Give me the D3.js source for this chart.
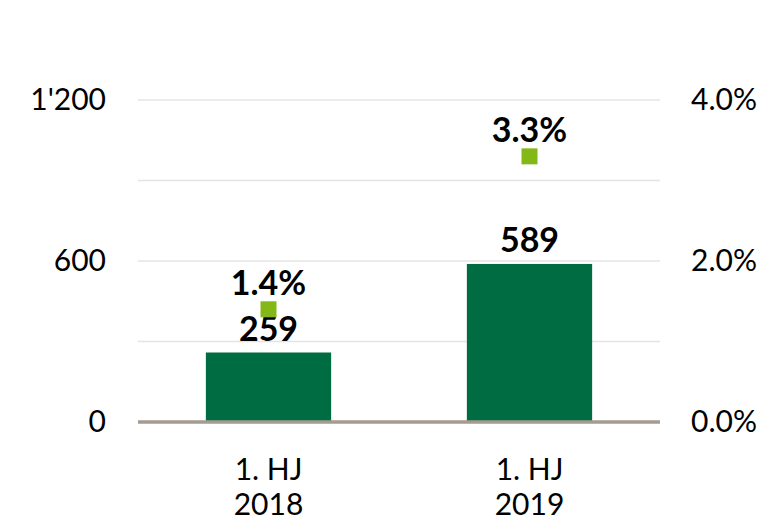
<!DOCTYPE html>
<html>
<head>
<meta charset="utf-8">
<script src="https://cdn.jsdelivr.net/npm/d3@7"></script>
<style>
  body { margin: 0; background: #fff; }
  svg { display: block; font-family: "Lato", "DejaVu Sans", sans-serif; }
</style>
</head>
<body>
<div id="chart"></div>
<script>
// data
const categories = [['1. HJ', '2018'], ['1. HJ', '2019']];
const barValues = [259, 589];
const rateValues = [1.4, 3.3];
const leftTicks = [0, 600, 1200];
const rightTicks = [0, 2, 4];
const gridTicks = [300, 600, 900, 1200];

const W = 769, H = 518;
const margin = { top: 100, right: 109, bottom: 96, left: 138 };
const width = W - margin.left - margin.right;
const height = H - margin.top - margin.bottom;

const svg = d3.select('#chart')
    .append('svg')
    .attr('width', W)
    .attr('height', H);

const g = svg.append('g')
    .attr('transform', `translate(${margin.left}, ${margin.top})`);

const xScale = d3.scaleBand()
    .domain(categories.map((d, i) => i))
    .range([0, width])
    .paddingInner(0.52)
    .paddingOuter(0.26);

const yLeft = d3.scaleLinear().domain([0, 1200]).range([height, 0]);
const yRight = d3.scaleLinear().domain([0, 4]).range([height, 0]);

// gridlines
g.selectAll('.grid')
    .data(gridTicks)
    .enter().append('line')
    .attr('x1', 0)
    .attr('x2', width)
    .attr('y1', d => yLeft(d))
    .attr('y2', d => yLeft(d))
    .attr('stroke', '#e4e4e4')
    .attr('stroke-width', 1.5);

// left axis
const leftAxis = g.append('g')
    .call(d3.axisLeft(yLeft)
        .tickValues(leftTicks)
        .tickSize(0)
        .tickPadding(32)
        .tickFormat(d => d3.format(',')(d).replace(',', "'")));
leftAxis.select('.domain').remove();
leftAxis.selectAll('text')
    .attr('dy', '0.3em')
    .style('font-size', '30px')
    .style('fill', '#000')
    .style('font-family', '"Lato", "DejaVu Sans", sans-serif');

// right axis
const rightAxis = g.append('g')
    .attr('transform', `translate(${width}, 0)`)
    .call(d3.axisRight(yRight)
        .tickValues(rightTicks)
        .tickSize(0)
        .tickPadding(31)
        .tickFormat(d => d.toFixed(1) + '%'));
rightAxis.select('.domain').remove();
rightAxis.selectAll('text')
    .attr('dy', '0.3em')
    .style('font-size', '30px')
    .style('fill', '#000')
    .style('font-family', '"Lato", "DejaVu Sans", sans-serif');

// bars
g.selectAll('.bar')
    .data(barValues)
    .enter().append('rect')
    .attr('class', 'bar')
    .attr('x', (d, i) => xScale(i))
    .attr('y', d => yLeft(d))
    .attr('width', xScale.bandwidth())
    .attr('height', d => height - yLeft(d))
    .attr('fill', '#006c41');

// baseline
g.append('line')
    .attr('x1', 0)
    .attr('x2', width)
    .attr('y1', height)
    .attr('y2', height)
    .attr('stroke', '#a59b93')
    .attr('stroke-width', 3.5);

// bar labels
g.selectAll('.bar-label')
    .data(barValues)
    .enter().append('text')
    .attr('class', 'bar-label')
    .attr('x', (d, i) => xScale(i) + xScale.bandwidth() / 2)
    .attr('y', d => yLeft(d) - 12)
    .attr('text-anchor', 'middle')
    .style('font-size', '34px')
    .style('font-weight', 'bold')
    .style('fill', '#000')
    .text(d => d);

// rate markers
const sq = 16;
g.selectAll('.rate')
    .data(rateValues)
    .enter().append('rect')
    .attr('class', 'rate')
    .attr('x', (d, i) => xScale(i) + xScale.bandwidth() / 2 - sq / 2)
    .attr('y', d => yRight(d) - sq / 2)
    .attr('width', sq)
    .attr('height', sq)
    .attr('fill', '#84b818');

g.selectAll('.rate-label')
    .data(rateValues)
    .enter().append('text')
    .attr('class', 'rate-label')
    .attr('x', (d, i) => xScale(i) + xScale.bandwidth() / 2)
    .attr('y', d => yRight(d) - 14)
    .attr('text-anchor', 'middle')
    .style('font-size', '34px')
    .style('font-weight', 'bold')
    .style('fill', '#000')
    .text(d => d.toFixed(1) + '%');

// category labels
const cat = g.selectAll('.cat')
    .data(categories)
    .enter().append('text')
    .attr('class', 'cat')
    .attr('x', (d, i) => xScale(i) + xScale.bandwidth() / 2)
    .attr('y', height + 58)
    .attr('text-anchor', 'middle')
    .style('font-size', '30px')
    .style('fill', '#000');

cat.selectAll('tspan')
    .data(d => d)
    .enter().append('tspan')
    .attr('x', function () { return d3.select(this.parentNode).attr('x'); })
    .attr('dy', (d, i) => i === 0 ? 0 : 35)
    .text(d => d);
</script>
</body>
</html>
